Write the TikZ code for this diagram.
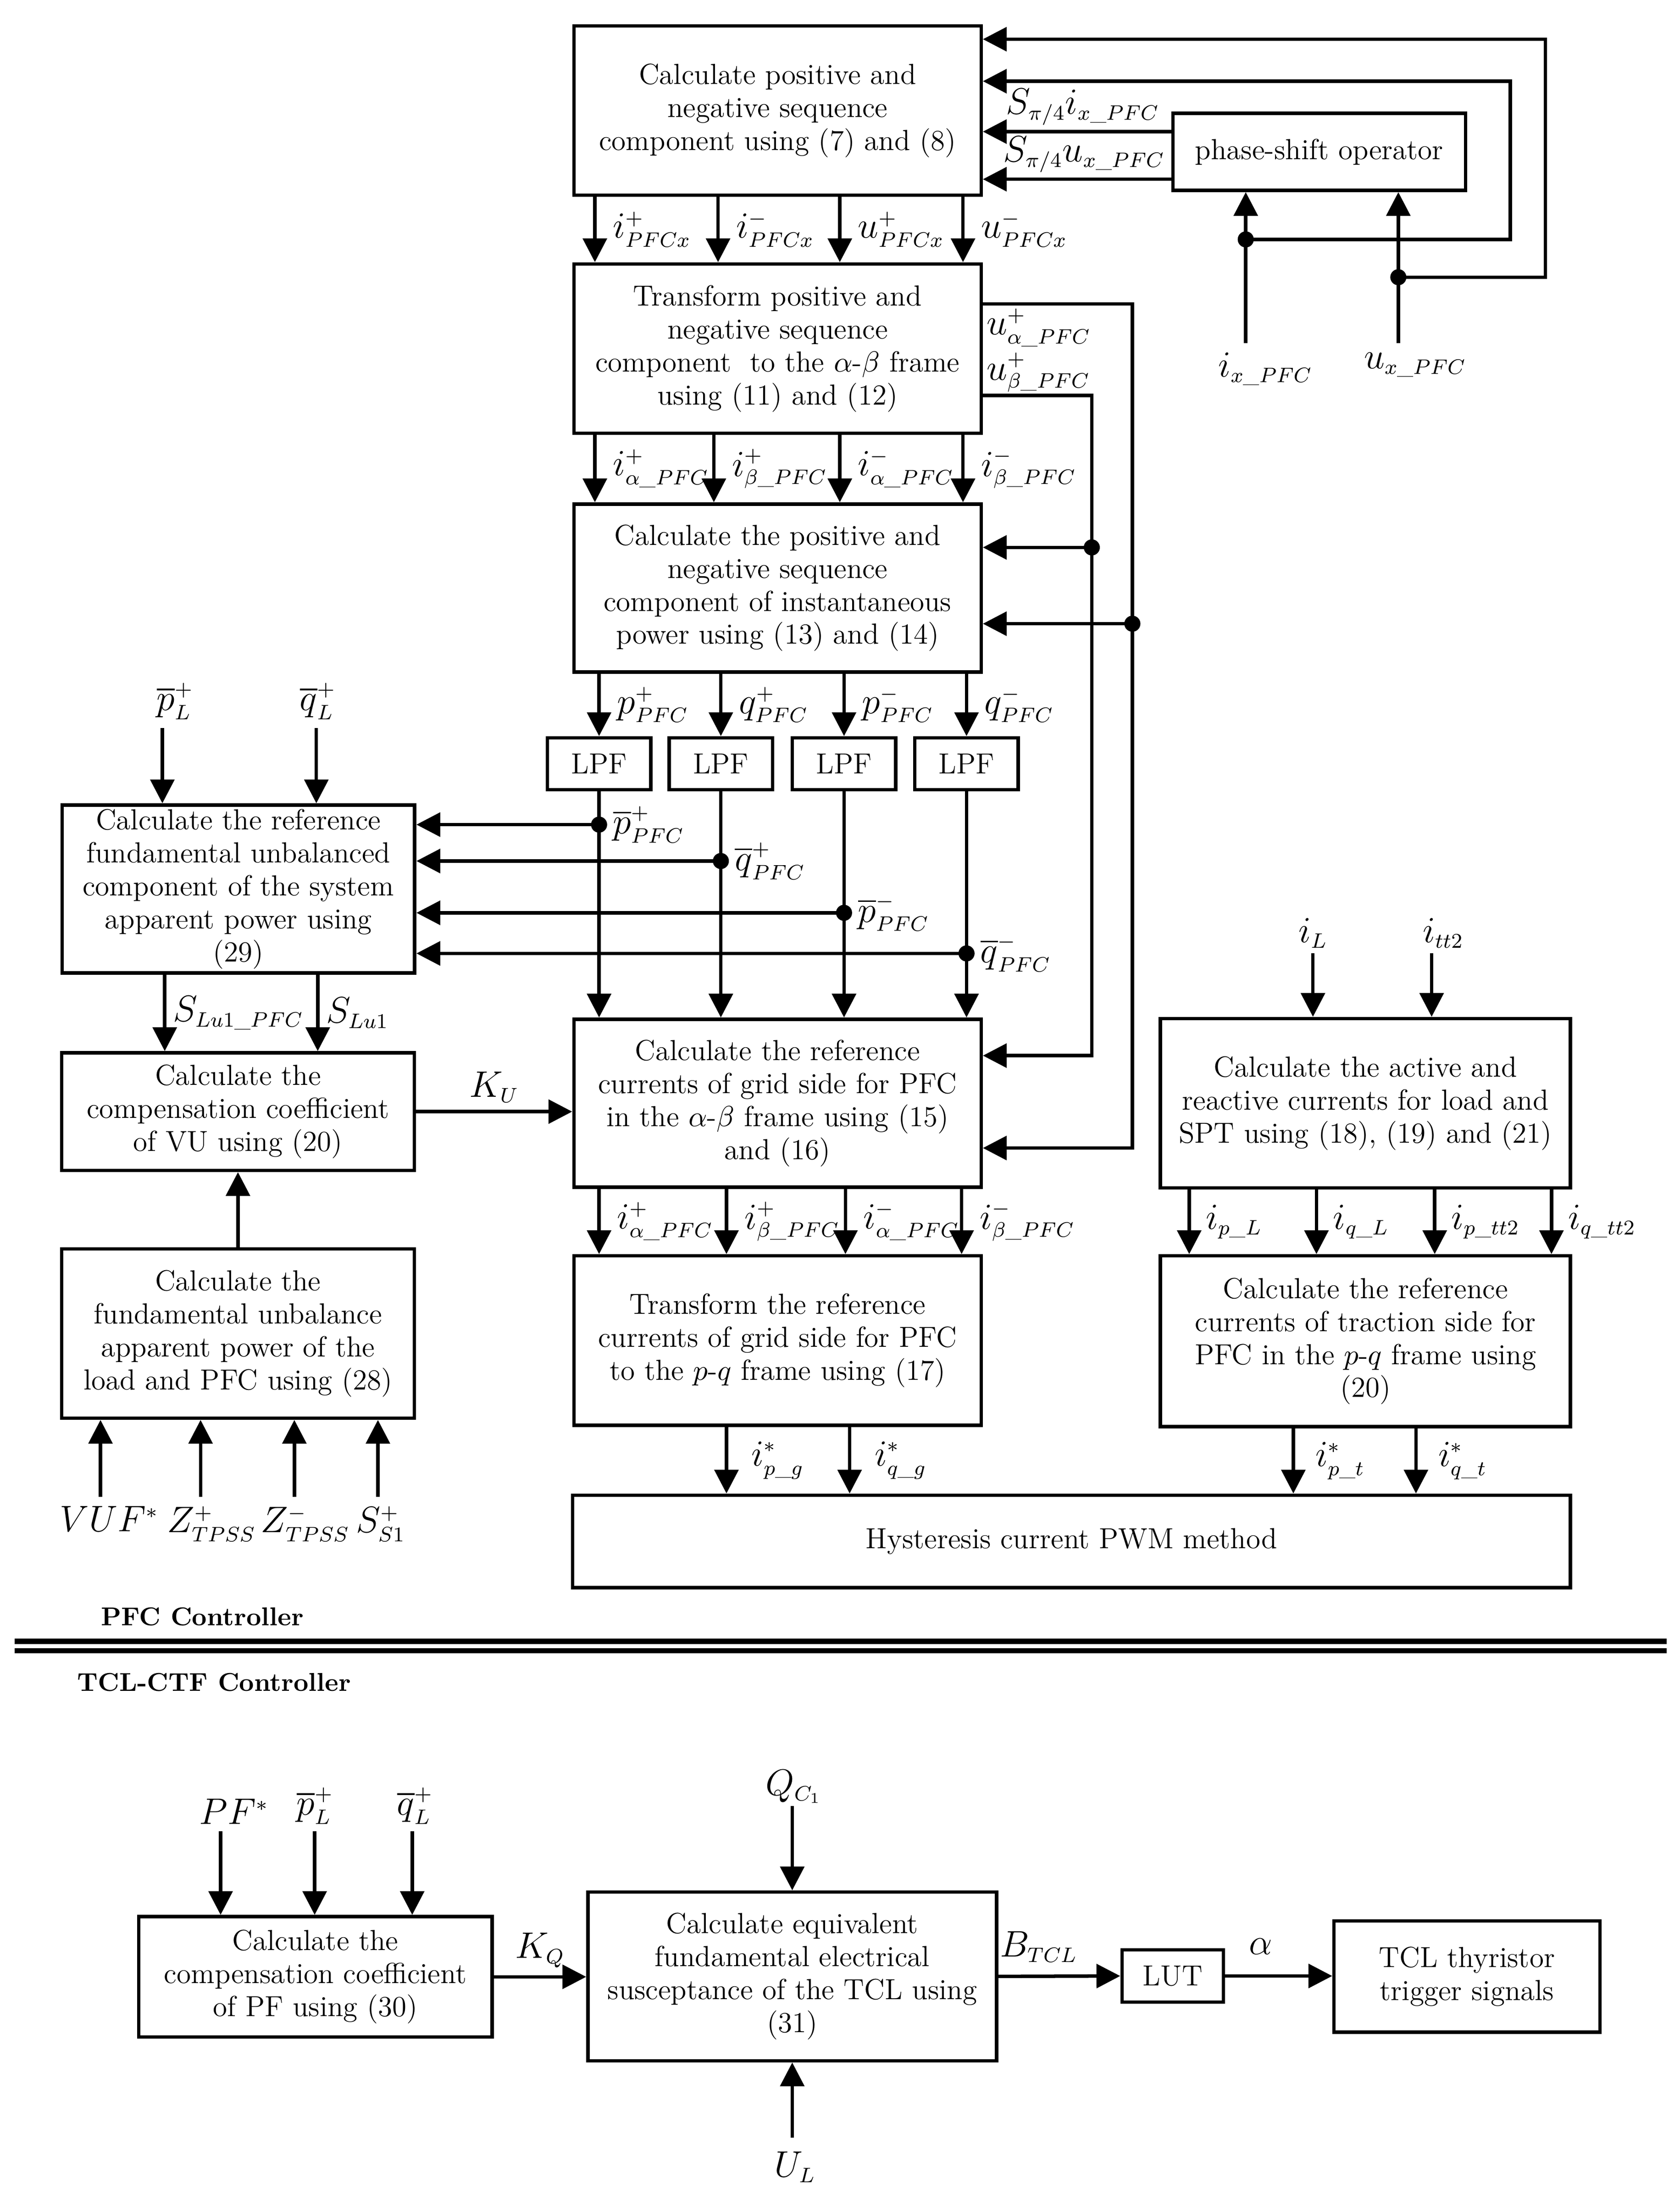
\RequirePackage{fix-cm}
\documentclass[tikz,border=0pt]{standalone}
\usepackage{amsmath}
\usepackage{amssymb}
\usetikzlibrary{calc,arrows.meta}
\DeclareMathSizes{15}{15}{8.5}{6}
\newcommand{\us}{\text{\_}}

\begin{document}
\begin{tikzpicture}[x=0.02cm,y=-0.02cm,line width=1.4pt,
    box/.style={draw,align=center,inner sep=0pt,font=\fontsize{11.8}{13.4}\selectfont},
    wbox/.style={box,minimum width=5.82cm,minimum height=2.42cm},
    lbox/.style={box,minimum width=5.04cm},
    lpf/.style={box,minimum width=1.48cm,minimum height=0.74cm},
    lab/.style={inner sep=1pt,font=\fontsize{15}{17}\selectfont},
    arr/.style={-{Triangle[length=0.34cm,width=0.34cm]}},
    jdot/.style={circle,fill,inner sep=0pt,minimum size=0.23cm},
    ctrl/.style={inner sep=0pt,font=\bfseries\fontsize{10.5}{12}\selectfont}]
    \useasboundingbox (0,0) rectangle (1200,1580);

    \node[wbox] (seq) at (555.5,79) {Calculate positive and\\negative sequence\\component using (7) and (8)};
    \node[box,minimum width=4.18cm,minimum height=1.1cm] (psh) at (942.5,108.5) {phase-shift operator};
    \node[wbox] (trf) at (555.5,249) {Transform positive and\\negative sequence\\component\ \ to the $\alpha$-$\beta$ frame\\using (11) and (12)};
    \node[wbox,minimum height=2.4cm] (ipw) at (555.5,420) {Calculate the positive and\\negative sequence\\component of instantaneous\\power using (13) and (14)};
    \foreach \x [count=\k] in {428,515,603,690.5}
      \node[lpf] (lpf\k) at (\x,545.5) {LPF};
    \node[lbox,minimum height=2.4cm] (ref) at (170.3,635) {Calculate the reference\\fundamental unbalanced\\component of the system\\apparent power using\\(29)};
    \node[lbox,minimum height=1.68cm] (cvu) at (170,794) {Calculate the\\compensation coefficient\\of VU using (20)};
    \node[lbox,minimum height=2.42cm] (fun) at (170,952.5) {Calculate the\\fundamental unbalance\\apparent power of the\\load and PFC using (28)};
    \node[wbox,minimum height=2.4cm] (rgc) at (555.5,788) {Calculate the reference\\currents of grid side for PFC\\in the $\alpha$-$\beta$ frame using (15)\\and (16)};
    \node[wbox] (tpq) at (555.5,957.5) {Transform the reference\\currents of grid side for PFC\\to the $p$-$q$ frame using (17)};
    \node[wbox,minimum width=5.86cm] (alc) at (975.5,788) {Calculate the active and\\reactive currents for load and\\SPT using (18), (19) and (21)};
    \node[wbox,minimum width=5.86cm,minimum height=2.44cm] (tsc) at (975.5,958) {Calculate the reference\\currents of traction side for\\PFC in the $p$-$q$ frame using\\(20)};
    \node[box,minimum width=14.26cm,minimum height=1.32cm] (hys) at (765.5,1101) {Hysteresis current PWM method};

    \node[jdot] (d1) at (890,171) {};
    \node[jdot] (d2) at (999,198) {};
    \coordinate (ix) at (890,245);
    \coordinate (ux) at (999,245);
    \draw[arr] (ix) -- (psh.south -| ix);
    \draw[arr] (ux) -- (psh.south -| ux);
    \draw[arr] (d1.center) -- (1079,171) |- (seq.east |- 0,58);
    \draw[arr] (d2.center) -- (1104,198) |- (seq.east |- 0,28);
    \draw[arr] (psh.west |- 0,94) -- (seq.east |- 0,94) node[lab,midway,above=1pt,xshift=0.08cm] (si) {$S_{\pi/4}i_{x\us PFC}$};
    \draw[arr] (psh.west |- 0,128) -- (seq.east |- 0,128) node[lab,midway,above=1pt,xshift=0.1cm] (su) {$S_{\pi/4}u_{x\us PFC}$};
    \node[lab,anchor=north] (lix) at (904,249) {$i_{x\us PFC}$};
    \node[lab,anchor=north] (lux) at (1011,249) {$u_{x\us PFC}$};

    \foreach \x/\lb [count=\k] in {425/i^+_{PFCx},513/i^-_{PFCx},600/u^+_{PFCx},688/u^-_{PFCx}}
      \draw[arr] (seq.south -| \x,0) -- (trf.north -| \x,0)
        node[lab,midway,anchor=west,xshift=0.2cm] (sq\k) {$\lb$};

    \node[jdot] (d3) at (780,391) {};
    \node[jdot] (d4) at (809,445.5) {};
    \draw[arr] (trf.east |- 0,217) -| (d4.center) |- (rgc.east |- 0,820);
    \draw[arr] (trf.east |- 0,282.5) -| (d3.center) |- (rgc.east |- 0,754);
    \draw[arr] (d3.center) -- (ipw.east |- d3);
    \draw[arr] (d4.center) -- (ipw.east |- d4);
    \node[lab,anchor=west] (lua) at (702,234) {$u^+_{\alpha\us PFC}$};
    \node[lab,anchor=west] (lub) at (702,266) {$u^+_{\beta\us PFC}$};

    \foreach \x/\lb [count=\k] in {425/i^+_{\alpha\us PFC},510/i^+_{\beta\us PFC},600/i^-_{\alpha\us PFC},688/i^-_{\beta\us PFC}}
      \draw[arr] (trf.south -| \x,0) -- (ipw.north -| \x,0)
        node[lab,midway,anchor=west,xshift=0.2cm] (ab\k) {$\lb$};

    \foreach \lb [count=\k] in {p^+_{PFC},q^+_{PFC},p^-_{PFC},q^-_{PFC}}
      \draw[arr] (ipw.south -| lpf\k) -- (lpf\k.north)
        node[lab,midway,anchor=west,xshift=0.2cm] (pq\k) {$\lb$};

    \foreach \y/\lb [count=\k] in {589/\overline{p}^+_{PFC},615/\overline{q}^+_{PFC},652/\overline{p}^-_{PFC},681/\overline{q}^-_{PFC}} {
      \draw[arr] (lpf\k.south) -- (rgc.north -| lpf\k);
      \node[jdot] (f\k) at (lpf\k.south |- 0,\y) {};
      \draw[arr] (f\k.center) -- (ref.east |- f\k);
      \node[lab,anchor=west] (fl\k) at (f\k.east) {$\lb$};
    }

    \coordinate (pl) at (116,520);
    \coordinate (ql) at (226,520);
    \draw[arr] (pl) -- (ref.north -| pl);
    \draw[arr] (ql) -- (ref.north -| ql);
    \node[lab,anchor=south] (lpl) at (125,517) {$\overline{p}^+_L$};
    \node[lab,anchor=south] (lql) at (227,517) {$\overline{q}^+_L$};

    \foreach \x/\lb [count=\k] in {117.7/S_{Lu1\us PFC},227/S_{Lu1}}
      \draw[arr] (ref.south -| \x,0) -- (cvu.north -| \x,0)
        node[lab,midway,anchor=west,xshift=0.06cm] (sl\k) {$\lb$};

    \draw[arr] (cvu.east) -- (cvu.east -| rgc.west) node[lab,midway,above=2pt] (ku) {$K_U$};
    \draw[arr] (fun.north) -- (cvu.south);

    \foreach \x/\c/\lb [count=\k] in {71.8/78/VUF^*,143.3/151/Z^+_{TPSS},210.3/218/Z^-_{TPSS},270/272/S^+_{S1}} {
      \coordinate (v\k) at (\x,1069);
      \draw[arr] (v\k) -- (fun.south -| v\k);
      \node[lab,anchor=north] (vl\k) at (\c,1073) {$\lb$};
    }

    \foreach \x/\lb [count=\k] in {428/i^+_{\alpha\us PFC},519/i^+_{\beta\us PFC},604/i^-_{\alpha\us PFC},687/i^-_{\beta\us PFC}}
      \draw[arr] (rgc.south -| \x,0) -- (tpq.north -| \x,0)
        node[lab,midway,anchor=west,xshift=0.2cm] (rc\k) {$\lb$};

    \foreach \x/\lb [count=\k] in {519/i^*_{p\us g},607/i^*_{q\us g}}
      \draw[arr] (tpq.south -| \x,0) -- (hys.north -| \x,0)
        node[lab,midway,anchor=west,xshift=0.3cm] (ig\k) {$\lb$};

    \coordinate (il) at (938,681);
    \coordinate (itt) at (1022.8,681);
    \draw[arr] (il) -- (alc.north -| il);
    \draw[arr] (itt) -- (alc.north -| itt);
    \node[lab,anchor=south] (lil) at (938,680) {$i_L$};
    \node[lab,anchor=south] (lit) at (1031,680) {$i_{tt2}$};

    \foreach \x/\lb [count=\k] in {849.6/i_{p\us L},940.5/i_{q\us L},1025/i_{p\us tt2},1108.4/i_{q\us tt2}}
      \draw[arr] (alc.south -| \x,0) -- (tsc.north -| \x,0)
        node[lab,midway,anchor=west,xshift=0.18cm] (ic\k) {$\lb$};

    \foreach \x/\lb [count=\k] in {924/i^*_{p\us t},1011.6/i^*_{q\us t}}
      \draw[arr] (tsc.south -| \x,0) -- (hys.north -| \x,0)
        node[lab,midway,anchor=west,xshift=0.26cm] (iq\k) {$\lb$};

    \node[ctrl,anchor=base west] (pfc) at (71,1161) {PFC Controller};
    \coordinate (sepl) at (10.5,1175.7);
    \coordinate (sepr) at (1190.6,1175.7);
    \draw[line width=2.1pt,double,double distance=1.7pt] (sepl) -- (sepr);
    \node[ctrl,anchor=base west] (tcl) at (54,1208) {TCL-CTF Controller};

    \node[box,minimum width=5.05cm,minimum height=1.72cm] (cpf) at (225.3,1412) {Calculate the\\compensation coefficient\\of PF using (30)};
    \node[box,minimum width=5.84cm,minimum height=2.41cm] (sus) at (566,1411.7) {Calculate equivalent\\fundamental electrical\\susceptance of the TCL using\\(31)};
    \node[box,minimum width=1.45cm,minimum height=0.75cm] (lut) at (837.8,1411.4) {LUT};
    \node[box,minimum width=3.8cm,minimum height=1.59cm] (trg) at (1048,1411.8) {TCL thyristor\\trigger signals};

    \foreach \x/\c/\lb [count=\k] in {157.6/167/PF^*,224.8/225/\overline{p}^+_L,294.5/296.5/\overline{q}^+_L} {
      \coordinate (w\k) at (\x,1308);
      \draw[arr] (w\k) -- (cpf.north -| w\k);
      \node[lab,anchor=south] (wl\k) at (\c,1306) {$\lb$};
    }
    \coordinate (qc) at (566,1290);
    \coordinate (ul) at (566,1527);
    \draw[arr] (qc) -- (sus.north);
    \draw[arr] (ul) -- (sus.south);
    \node[lab,anchor=south] (lqc) at (567,1291) {$Q_{C_1}$};
    \node[lab,anchor=north] (lul) at (568,1534) {$U_L$};
    \path[arr]
      (cpf.east) edge node[lab,above=2pt] (kq) {$K_Q$} (cpf.east -| sus.west)
      (sus.east) edge node[lab,pos=0.33,above=4pt] (bt) {$B_{TCL}$} (lut.west)
      (lut.east) edge node[lab,pos=0.33,above=7pt] (al) {$\alpha$} (lut.east -| trg.west)
    ;
  \end{tikzpicture}
\end{document}
